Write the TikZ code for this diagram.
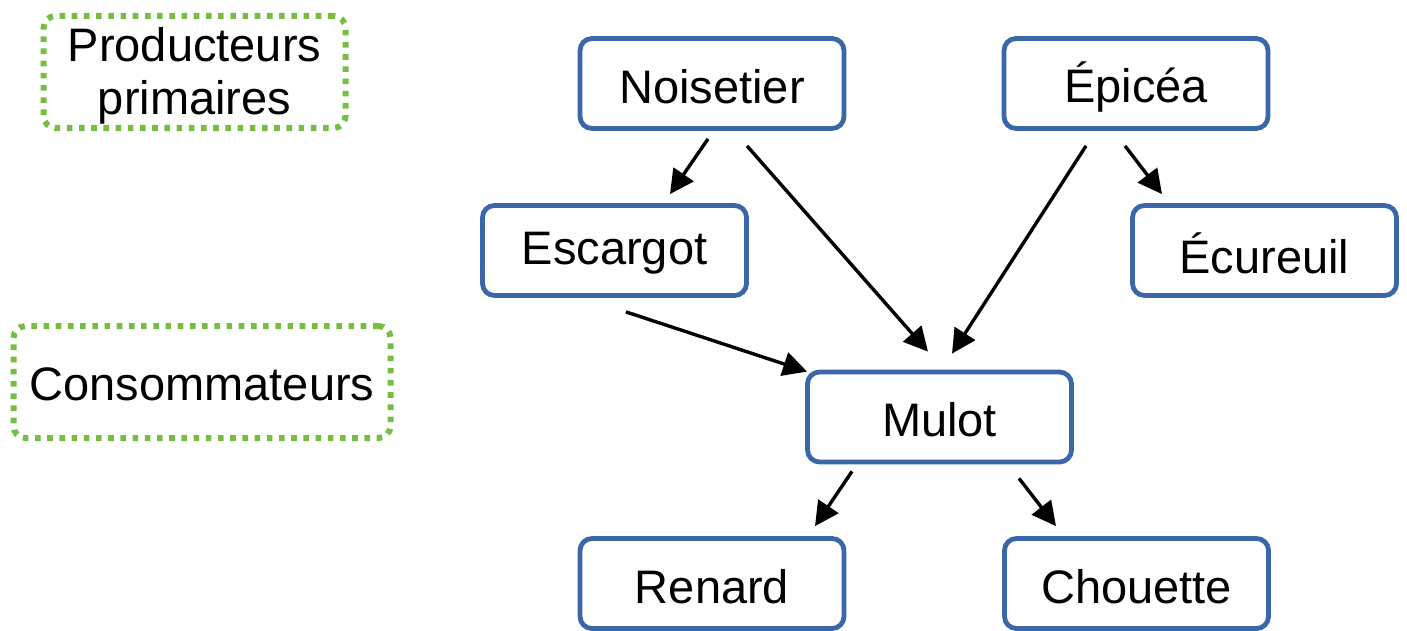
\documentclass[tikz,border=0pt]{standalone}
\usepackage{fontspec}
\setmainfont{Liberation Sans}
\usetikzlibrary{arrows.meta,calc}
\definecolor{boxblue}{RGB}{58,103,168}
\definecolor{dotgreen}{RGB}{118,190,67}
\newcommand{\lowered}[1]{\raisebox{-1.5pt}[\height][\depth]{#1}}
\tikzset{
  species/.style={draw=boxblue, line width=2.4pt, rounded corners=6pt, fill=white,
    minimum width=132pt, minimum height=45pt, inner sep=0pt,
    font=\fontsize{23.5}{26}\selectfont},
  levelbox/.style={draw=dotgreen, line width=3pt, rounded corners=6pt,
    dash pattern=on 2.8pt off 3.3pt, inner sep=0pt, align=center,
    font=\fontsize{23.5}{26.5}\selectfont},
  feed/.style={line width=1.7pt, -{Triangle[length=12pt,width=12pt]}}
}
\begin{document}
\begin{tikzpicture}[x=0.5pt,y=-0.5pt]
\useasboundingbox (0,0) rectangle (1407,631);
% level labels
\node[levelbox, minimum width=151pt, minimum height=56pt] (prod) at (194.5,72) {};
\node[align=center, font=\fontsize{23.5}{26.5}\selectfont] (prodtext) at (194.5,76) {Producteurs\\primaires};
\node[levelbox, minimum width=188.5pt, minimum height=56pt] (cons) at (202,382) {};
\node[font=\fontsize{23.5}{26.5}\selectfont] (constext) at (202,384) {Consommateurs};
% species
\node[species] (noise) at (712,83.5) {\lowered{Noisetier}};
\node[species] (epicea) at (1136,83.5) {\lowered{Épicéa}};
\node[species] (escar) at (614.5,250.5) {\lowered{Escargot}};
\node[species] (ecur) at (1264.5,250.5) {\lowered{Écureuil}};
\node[species] (mulot) at (939.5,417) {\lowered{Mulot}};
\node[species] (renard) at (712,583.5) {\lowered{Renard}};
\node[species] (chouette) at (1136.5,583.5) {\lowered{Chouette}};
% arrows
\draw[feed] ($(noise.south)+(-4,8)$) -- ($(escar.north)+(55.5,-9)$);
\draw[feed] ($(noise.south)+(35,15)$) -- ($(mulot.north)+(-11.5,-18)$);
\draw[feed] ($(epicea.south)+(-50,15)$) -- ($(mulot.north)+(12.5,-16)$);
\draw[feed] ($(epicea.south)+(-11,15)$) -- ($(ecur.north)+(-102.5,-9)$);
\draw[feed] ($(escar.south)+(11.5,14)$) -- ($(mulot.north west)+(2,2)$);
\draw[feed] ($(mulot.south)+(-87.5,7)$) -- ($(renard.north)+(103,-10)$);
\draw[feed] ($(mulot.south)+(79.5,14)$) -- ($(chouette.north)+(-80.5,-10)$);
\end{tikzpicture}
\end{document}
